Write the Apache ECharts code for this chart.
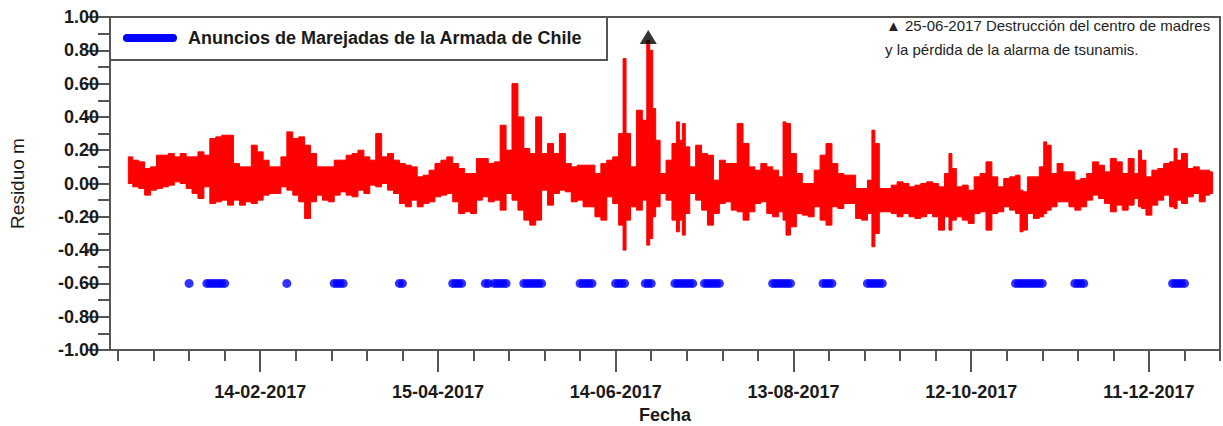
<!DOCTYPE html>
<html><head><meta charset="utf-8">
<script src="https://cdn.jsdelivr.net/npm/echarts@6/dist/echarts.min.js"></script>
<style>html,body{margin:0;padding:0;background:#fff}#c{width:1223px;height:426px}</style>
</head><body><div id="c"></div>
<script>
// x values are day numbers counted from 01-01-2017 (= 0)
const days = [0,2,4,6,8,10,12,14,16,18,20,22,24,26,28,30,32,34,36,38,40,42,44,46,48,50,52,54,56,58,60,62,64,66,68,70,
72,74,76,78,80,82,84,86,88,90,92,94,96,98,100,102,104,106,108,110,112,114,116,118,120,122,124,126,128,130,132,134,136,138,140,142,144,
146,148,150,152,154,156,158,160,162,164,166,167,168,170,172,174,175,176,177,178,180,182,184,185,186,187,188,190,192,194,196,198,200,202,204,206,208,210,212,214,216,218,
220,221,222,224,226,228,230,232,234,236,238,240,242,244,246,248,250,251,252,254,256,258,260,262,264,266,268,270,272,274,276,277,278,280,282,284,286,288,290,292,
294,296,298,300,301,302,304,306,308,309,310,312,314,316,318,320,322,324,326,328,330,332,334,336,338,340,341,342,344,346,348,350,352,353,354,356,358,360,362,364,365];
const highs = [0.16,0.14,0.13,0.09,0.10,0.17,0.17,0.18,0.16,0.18,0.16,0.16,0.19,0.17,0.27,0.28,0.29,0.29,0.12,0.10,0.10,0.23,0.19,0.14,0.10,0.10,0.16,0.31,0.27,0.28,0.23,0.18,0.10,0.10,0.10,0.14,
0.14,0.17,0.18,0.20,0.16,0.14,0.30,0.16,0.18,0.14,0.12,0.11,0.10,0.04,0.05,0.08,0.12,0.14,0.16,0.12,0.09,0.06,0.06,0.15,0.15,0.12,0.13,0.35,0.20,0.60,0.40,0.21,0.18,0.40,0.18,0.24,0.18,
0.30,0.12,0.10,0.11,0.11,0.11,0.06,0.12,0.14,0.16,0.30,0.75,0.30,0.10,0.44,0.38,0.86,0.80,0.45,0.26,0.06,0.14,0.24,0.37,0.26,0.36,0.22,0.10,0.23,0.18,0.17,0.02,0.14,0.12,0.12,0.36,0.24,0.10,0.08,0.12,0.10,0.08,
0.04,0.37,0.36,0.18,0.06,0.00,0.00,0.08,0.17,0.24,0.12,0.06,0.05,0.05,-0.03,-0.03,0.02,0.32,0.24,-0.03,-0.03,-0.01,0.01,0.00,-0.02,-0.01,0.00,0.01,0.00,-0.02,0.06,0.18,0.09,-0.02,-0.01,-0.04,0.04,0.06,0.13,0.04,
-0.02,0.03,0.04,0.05,-0.04,-0.05,0.04,0.04,0.10,0.25,0.23,0.06,0.12,0.07,0.07,0.02,0.03,0.06,0.13,0.11,0.07,0.15,0.13,0.06,0.15,0.06,0.20,0.14,0.04,0.08,0.09,0.12,0.13,0.21,0.14,0.18,0.09,0.10,0.08,0.08,0.07];
const lows = [0.00,-0.02,-0.03,-0.07,-0.04,-0.03,-0.02,-0.01,0.01,0.00,-0.03,-0.06,-0.09,-0.02,-0.12,-0.11,-0.10,-0.13,-0.10,-0.13,-0.11,-0.12,-0.10,-0.07,-0.06,-0.06,-0.02,-0.04,-0.07,-0.11,-0.21,-0.11,-0.07,-0.10,-0.11,-0.07,
-0.05,-0.07,-0.08,-0.04,-0.06,-0.01,-0.02,0.00,-0.04,-0.06,-0.12,-0.14,-0.10,-0.14,-0.12,-0.11,-0.08,-0.07,-0.06,-0.11,-0.18,-0.17,-0.18,-0.10,-0.08,-0.11,-0.10,-0.16,-0.06,-0.10,-0.16,-0.22,-0.25,-0.22,-0.04,-0.13,-0.06,
-0.04,-0.05,-0.11,-0.10,-0.14,-0.14,-0.20,-0.22,-0.08,-0.12,-0.25,-0.40,-0.22,-0.14,-0.16,-0.10,-0.37,-0.33,-0.20,-0.14,-0.06,-0.10,-0.22,-0.29,-0.22,-0.31,-0.18,-0.06,-0.10,-0.16,-0.25,-0.18,-0.12,-0.11,-0.16,-0.17,-0.22,-0.17,-0.12,-0.11,-0.18,-0.20,
-0.17,-0.22,-0.31,-0.26,-0.18,-0.19,-0.20,-0.14,-0.22,-0.25,-0.14,-0.15,-0.12,-0.12,-0.21,-0.22,-0.18,-0.38,-0.30,-0.17,-0.17,-0.18,-0.20,-0.18,-0.20,-0.21,-0.20,-0.18,-0.20,-0.28,-0.20,-0.28,-0.22,-0.20,-0.22,-0.24,-0.18,-0.17,-0.28,-0.18,
-0.17,-0.14,-0.16,-0.18,-0.29,-0.28,-0.18,-0.21,-0.20,-0.18,-0.16,-0.14,-0.11,-0.11,-0.14,-0.16,-0.14,-0.10,-0.07,-0.09,-0.12,-0.17,-0.13,-0.16,-0.13,-0.09,-0.14,-0.15,-0.19,-0.13,-0.10,-0.07,-0.14,-0.15,-0.10,-0.12,-0.08,-0.06,-0.11,-0.07,-0.06];
// days with swell warnings (Armada de Chile), drawn at residual level -0.60
const alertDays = [20,26,27,28,29,30,31,32,53,69,70,71,72,91,92,109,110,111,112,120,121,123,124,125,126,127,
133,134,135,136,137,138,139,152,153,154,155,156,164,165,166,167,174,175,176,184,185,186,187,188,189,190,
194,195,196,197,198,199,217,218,219,220,221,222,223,234,235,236,237,249,250,251,252,253,254,
299,300,301,302,303,304,305,306,307,308,319,320,321,322,352,353,354,355,356];
const alertLevel = -0.60;
const eventDay = 175, eventValue = 0.88;
const majorTickDays = [44,104,164,224,284,344];
const tickLabels = ['14-02-2017','15-04-2017','14-06-2017','13-08-2017','12-10-2017','11-12-2017'];
const minorTickDays = [-4,8,20,32,44,56,68,80,92,104,116,128,140,152,164,176,188,200,212,224,236,248,260,272,284,296,308,320,332,344,356,368];
const xMin = -6.7, xMax = 368;

const FONT = 'Liberation Sans, Arial, sans-serif';
const AX = '#555';
const chart = echarts.init(document.getElementById('c'), null, {renderer: 'svg'});
// each bin spans half-way to its neighbours
const bandData = days.map((d, i) => {
  const left = i === 0 ? d - 0.5 : (d + days[i - 1]) / 2;
  const right = i === days.length - 1 ? d + 0.5 : (d + days[i + 1]) / 2;
  return [d, highs[i], lows[i], left, right];
});
chart.setOption({
  animation: false,
  backgroundColor: '#fff',
  grid: {left: 110, right: 3, top: 17, bottom: 76, show: true, borderColor: AX, borderWidth: 2,
         backgroundColor: 'transparent', outerBoundsMode: 'none', containLabel: false},
  xAxis: [{
    type: 'value', min: xMin, max: xMax,
    axisLine: {show: true, onZero: false, lineStyle: {color: AX, width: 2}},
    axisTick: {show: true, customValues: minorTickDays, length: 11, lineStyle: {color: AX, width: 2}},
    axisLabel: {show: false}, splitLine: {show: false}
  }, {
    type: 'value', min: xMin, max: xMax, position: 'bottom',
    axisLine: {show: false, onZero: false},
    axisTick: {show: true, customValues: majorTickDays, length: 22, lineStyle: {color: AX, width: 2}},
    axisLabel: {show: true, customValues: majorTickDays, margin: 33,
      formatter: v => tickLabels[majorTickDays.indexOf(Math.round(v))] || '',
      fontFamily: FONT, fontSize: 18, fontWeight: 'bold', color: '#1a1a1a'},
    splitLine: {show: false},
    name: 'Fecha', nameLocation: 'middle', nameGap: 55,
    nameTextStyle: {fontFamily: FONT, fontSize: 18, fontWeight: 'bold', color: '#1a1a1a'}
  }],
  yAxis: {
    type: 'value', min: -1, max: 1, interval: 0.2,
    axisLine: {show: true, onZero: false, lineStyle: {color: AX, width: 2}},
    axisTick: {show: true, length: 23, lineStyle: {color: AX, width: 2}},
    minorTick: {show: true, splitNumber: 2, length: 12, lineStyle: {color: AX, width: 2}},
    axisLabel: {formatter: v => v.toFixed(2), margin: 11, fontFamily: FONT, fontSize: 18, fontWeight: 'bold', color: '#1a1a1a'},
    splitLine: {show: false},
    name: 'Residuo m', nameLocation: 'middle', nameGap: 83,
    nameTextStyle: {fontFamily: FONT, fontSize: 19, color: '#1a1a1a'}
  },
  series: [
    {type: 'custom', name: 'Residuo', data: bandData, encode: {x: [0, 3, 4], y: [1, 2]},
     renderItem: (params, api) => {
       const p1 = api.coord([api.value(3), api.value(1)]);
       const p2 = api.coord([api.value(4), api.value(2)]);
       return {type: 'rect', shape: {x: p1[0], y: p1[1], width: p2[0] - p1[0], height: p2[1] - p1[1]},
               style: {fill: '#ff0000', stroke: '#ff0000', lineWidth: 1}};
     }},
    {type: 'scatter', name: 'Anuncios de Marejadas de la Armada de Chile',
     data: alertDays.map(d => [d, alertLevel]), symbol: 'circle', symbolSize: 9,
     itemStyle: {color: '#0000ff'}},
    {type: 'scatter', name: 'evento', data: [[eventDay, eventValue]], symbol: 'triangle', symbolSize: [17, 14],
     itemStyle: {color: '#000'}, z: 5}
  ],
  graphic: [
    {type: 'rect', z: 10, shape: {x: 110, y: 17, width: 497, height: 43},
     style: {fill: '#fff', stroke: AX, lineWidth: 2}},
    {type: 'line', z: 11, shape: {x1: 127, y1: 38, x2: 173, y2: 38},
     style: {stroke: '#0000ff', lineWidth: 8, lineCap: 'round'}},
    {type: 'text', z: 11, x: 188, y: 38,
     style: {text: 'Anuncios de Marejadas de la Armada de Chile', font: 'bold 18px ' + FONT, fill: '#1a1a1a', verticalAlign: 'middle'}},
    {type: 'text', z: 11, x: 886, y: 25,
     style: {text: '▲ 25-06-2017 Destrucción del centro de madres', font: '15px ' + FONT, fill: '#222', verticalAlign: 'middle'}},
    {type: 'text', z: 11, x: 885, y: 49,
     style: {text: 'y la pérdida de la alarma de tsunamis.', font: '15px ' + FONT, fill: '#222', verticalAlign: 'middle'}}
  ]
});
</script></body></html>
